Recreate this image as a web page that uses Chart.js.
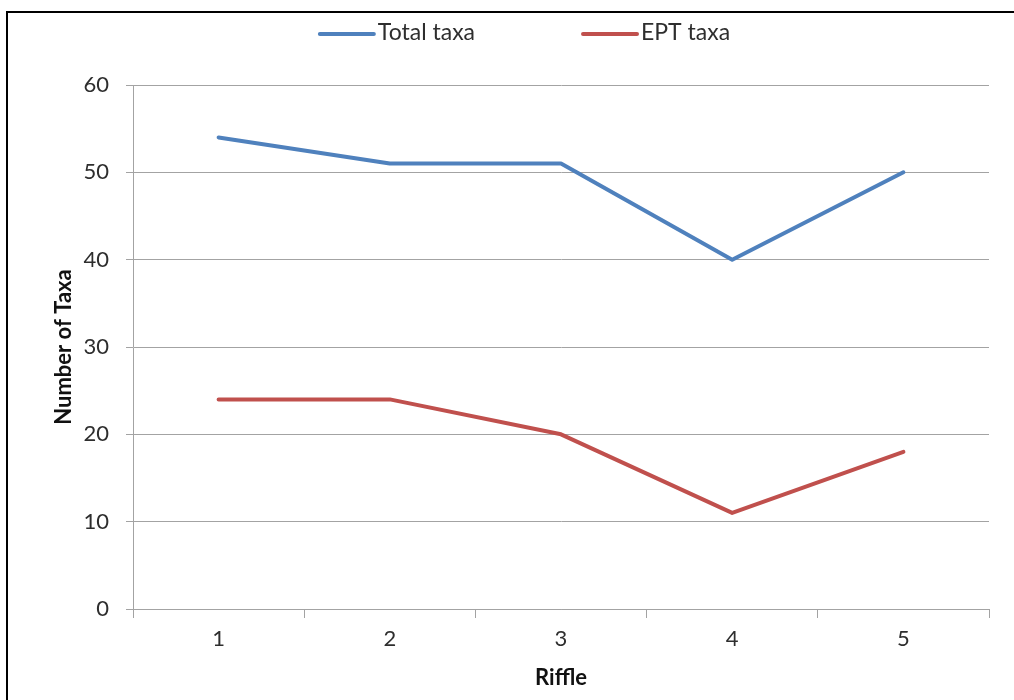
<!DOCTYPE html>
<html>
<head>
<meta charset="utf-8">
<script src="https://cdn.jsdelivr.net/npm/chart.js@4.4.1/dist/chart.umd.min.js"></script>
<style>
  html, body { margin: 0; padding: 0; background: #ffffff; }
  #wrap { position: relative; width: 1014px; height: 700px; }
</style>
</head>
<body>
<div id="wrap"><canvas id="chart" width="1014" height="700"></canvas></div>
<script>
// Riffle survey: taxa richness per riffle
const riffles = ['1', '2', '3', '4', '5'];
const totalTaxa = [54, 51, 51, 40, 50];
const eptTaxa = [24, 24, 20, 11, 18];
const seriesNames = ['Total taxa', 'EPT taxa'];
const yMin = 0, yMax = 60, yStep = 10;

const FONT = 'Lato, "Noto Sans", sans-serif';
const GRID = '#a3a3a3';
const TEXT = '#2e2e2e';

// Outer frame around the whole chart
const framePlugin = {
  id: 'frame',
  beforeDraw(chart) {
    const ctx = chart.ctx;
    ctx.save();
    ctx.fillStyle = '#ffffff';
    ctx.fillRect(0, 0, chart.width, chart.height);
    ctx.strokeStyle = '#000000';
    ctx.lineWidth = 2;
    ctx.strokeRect(7, 12, chart.width + 40, chart.height + 40);
    ctx.restore();
  }
};

// Horizontal legend centred over the plot, line swatch + label
const topLegend = {
  id: 'topLegend',
  afterDraw(chart) {
    const ctx = chart.ctx;
    const swatch = 54, gapText = 4, gapItems = 108, cx = 525, cy = 34;
    ctx.save();
    ctx.font = '23px ' + FONT;
    const items = chart.data.datasets.map(ds => ({
      ds, w: swatch + gapText + ctx.measureText(ds.label).width
    }));
    const total = items.reduce((s, it) => s + it.w, 0) + gapItems * (items.length - 1);
    let x = cx - total / 2;
    items.forEach(it => {
      ctx.strokeStyle = it.ds.borderColor;
      ctx.lineWidth = 4;
      ctx.lineCap = 'round';
      ctx.beginPath();
      ctx.moveTo(x, cy);
      ctx.lineTo(x + swatch, cy);
      ctx.stroke();
      ctx.fillStyle = TEXT;
      ctx.textBaseline = 'middle';
      ctx.textAlign = 'left';
      ctx.fillText(it.ds.label, x + swatch + gapText, cy - 1);
      x += it.w + gapItems;
    });
    ctx.restore();
  }
};

new Chart(document.getElementById('chart'), {
  type: 'line',
  data: {
    labels: riffles,
    datasets: [
      { label: seriesNames[0], data: totalTaxa, borderColor: '#4f81bd', backgroundColor: '#4f81bd' },
      { label: seriesNames[1], data: eptTaxa, borderColor: '#c0504d', backgroundColor: '#c0504d' }
    ]
  },
  options: {
    responsive: false,
    animation: false,
    layout: { padding: { top: 85, left: 40, right: 25, bottom: 0 } },
    elements: {
      line: { borderWidth: 4, tension: 0, borderCapStyle: 'round', borderJoinStyle: 'round' },
      point: { radius: 0, hoverRadius: 0 }
    },
    plugins: { legend: { display: false }, tooltip: { enabled: false } },
    scales: {
      x: {
        offset: true,
        grid: { offset: true, drawOnChartArea: false, drawTicks: true, tickLength: 9, color: GRID, lineWidth: 1 },
        border: { color: GRID, width: 1 },
        ticks: { color: TEXT, font: { family: FONT, size: 22 }, padding: 8, maxRotation: 0 },
        title: { display: true, text: 'Riffle', color: '#111111', font: { family: FONT, size: 22, weight: 'bold' }, padding: { top: 0, bottom: 9 } },
        afterFit(scale) { scale.height = 91; }
      },
      y: {
        min: yMin, max: yMax,
        ticks: { stepSize: yStep, color: TEXT, font: { family: FONT, size: 22 }, padding: 17 },
        grid: { color: GRID, lineWidth: 1, tickLength: 7, drawTicks: true },
        border: { color: GRID, width: 1 },
        title: { display: true, text: 'Number of Taxa', color: '#111111', font: { family: FONT, size: 22, weight: 'bold' }, padding: { top: 11, bottom: 0 } },
        afterFit(scale) { scale.width = 93; }
      }
    }
  },
  plugins: [framePlugin, topLegend]
});
</script>
</body>
</html>
